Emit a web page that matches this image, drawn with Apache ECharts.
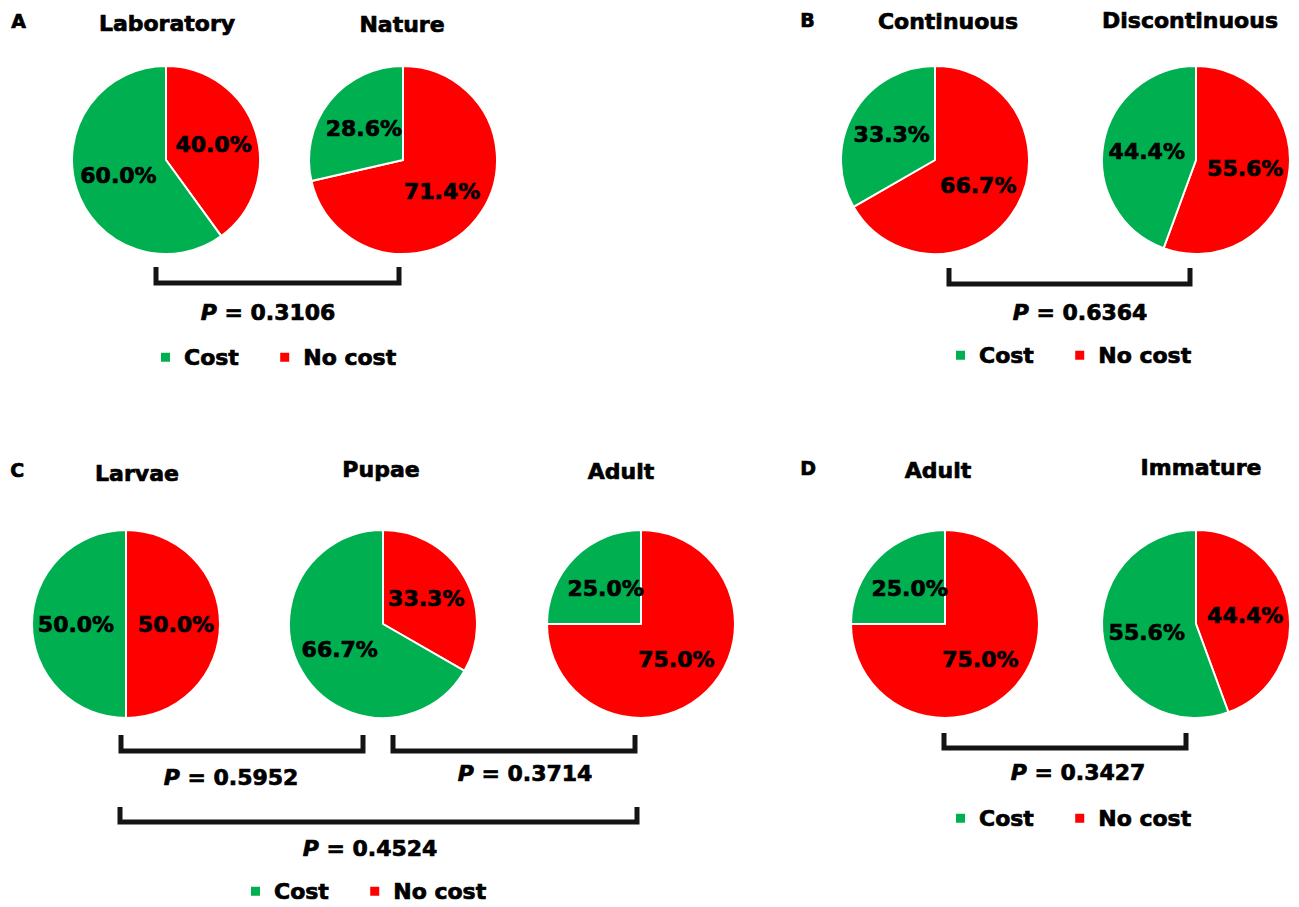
<!DOCTYPE html>
<html>
<head>
<meta charset="utf-8">
<script src="https://cdn.jsdelivr.net/npm/echarts@6/dist/echarts.min.js"></script>
<style>
html,body{margin:0;padding:0;background:#fff;}
#chart{width:1299px;height:907px;}
</style>
</head>
<body>
<div id="chart"></div>
<script>
// ---- data ----
const seriesNames = ['Cost', 'No cost'];
const panelA_groups = ['Laboratory', 'Nature'];
const panelA_cost = [60.0, 28.6];
const panelA_noCost = [40.0, 71.4];
const panelB_groups = ['Continuous', 'Discontinuous'];
const panelB_cost = [33.3, 44.4];
const panelB_noCost = [66.7, 55.6];
const panelC_groups = ['Larvae', 'Pupae', 'Adult'];
const panelC_cost = [50.0, 66.7, 25.0];
const panelC_noCost = [50.0, 33.3, 75.0];
const panelD_groups = ['Adult', 'Immature'];
const panelD_cost = [25.0, 55.6];
const panelD_noCost = [75.0, 44.4];
const panelA_p = ['0.3106'];
const panelB_p = ['0.6364'];
const panelC_p = ['0.5952', '0.3714', '0.4524'];
const panelD_p = ['0.3427'];
const panelLetters = ['A', 'B', 'C', 'D'];

// ---- layout ----
const FONT = 'DejaVu Sans';
const GREEN = '#00B050', RED = '#FF0000';
const R = 94;
const TB = 0.7; // text weight boost
const panels = [
  { letter: [11, 22], groups: panelA_groups, cost: panelA_cost, noCost: panelA_noCost,
    centers: [[166, 160], [403, 160]], titles: [[167, 23], [402, 24]],
    brackets: [[156, 399, 267, 283]], pv: panelA_p, pPos: [[268, 312]], legend: [159, 357] },
  { letter: [800, 21], groups: panelB_groups, cost: panelB_cost, noCost: panelB_noCost,
    centers: [[935, 160], [1196, 160]], titles: [[948, 21], [1190, 20]],
    brackets: [[949, 1190, 268, 284]], pv: panelB_p, pPos: [[1080, 312]], legend: [954, 355] },
  { letter: [10, 471], groups: panelC_groups, cost: panelC_cost, noCost: panelC_noCost,
    centers: [[126, 624], [383, 624], [641, 624]], titles: [[137, 473], [381, 469], [621, 471]],
    brackets: [[121, 363, 735, 751], [393, 635, 735, 751], [120, 637, 807, 822]], pv: panelC_p,
    pPos: [[231, 777], [525, 773], [370, 848]], legend: [249, 891] },
  { letter: [800, 469], groups: panelD_groups, cost: panelD_cost, noCost: panelD_noCost,
    centers: [[945, 624], [1196, 624]], titles: [[938, 470], [1201, 467]],
    brackets: [[944, 1186, 733, 748]], pv: panelD_p, pPos: [[1078, 772]], legend: [954, 818] }
];

const series = [];
const graphic = [];
const legends = [];

panels.forEach((p, pi) => {
  graphic.push({
    type: 'text', left: p.letter[0], top: p.letter[1] - 11,
    style: { text: panelLetters[pi], font: 'bold 19px "' + FONT + '"', fill: '#000',
             stroke: '#000', lineWidth: TB }
  });
  p.groups.forEach((g, gi) => {
    series.push({
      type: 'pie', name: g, center: p.centers[gi], radius: R,
      startAngle: 90, clockwise: true, animation: false, silent: true,
      itemStyle: { borderColor: '#fff', borderWidth: 2 },
      label: {
        show: true, position: 'inside', color: '#000',
        fontFamily: FONT, fontWeight: 'bold', fontSize: 22,
        textBorderColor: '#000', textBorderWidth: TB,
        formatter: (d) => d.value.toFixed(1) + '%'
      },
      labelLine: { show: false },
      emphasis: { disabled: true },
      data: [
        { name: seriesNames[1], value: p.noCost[gi], itemStyle: { color: RED } },
        { name: seriesNames[0], value: p.cost[gi], itemStyle: { color: GREEN } }
      ]
    });
    graphic.push({
      type: 'text', x: p.titles[gi][0], y: p.titles[gi][1],
      style: { text: g, font: 'bold 22px "' + FONT + '"', fill: '#000',
               stroke: '#000', lineWidth: TB,
               align: 'center', verticalAlign: 'middle' }
    });
  });
  p.brackets.forEach((b) => {
    graphic.push({
      type: 'polyline',
      shape: { points: [[b[0], b[2]], [b[0], b[3]], [b[1], b[3]], [b[1], b[2]]] },
      style: { stroke: '#141414', lineWidth: 5, fill: null, lineJoin: 'miter' }
    });
  });
  p.pv.forEach((v, vi) => {
    graphic.push({
      type: 'text', x: p.pPos[vi][0], y: p.pPos[vi][1],
      style: {
        text: '{i|P} = ' + v, font: 'bold 22px "' + FONT + '"', fill: '#000',
        stroke: '#000', lineWidth: TB,
        align: 'center', verticalAlign: 'middle',
        rich: { i: { fontStyle: 'italic', fontWeight: 'bold', fontSize: 22, fontFamily: FONT,
                     fill: '#000', stroke: '#000', lineWidth: TB } }
      }
    });
  });
  legends.push({
    data: seriesNames, left: p.legend[0], top: p.legend[1] - 11, padding: 0,
    orient: 'horizontal', icon: 'rect', itemWidth: 11, itemHeight: 11, itemGap: 39,
    selectedMode: false,
    textStyle: { fontFamily: FONT, fontWeight: 'bold', fontSize: 22, color: '#000',
                 textBorderColor: '#000', textBorderWidth: TB, padding: [0, 0, 8, 8] }
  });
});

const chart = echarts.init(document.getElementById('chart'), null, { renderer: 'svg' });
chart.setOption({
  backgroundColor: '#fff',
  animation: false,
  legend: legends,
  series: series,
  graphic: graphic
});
</script>
</body>
</html>
